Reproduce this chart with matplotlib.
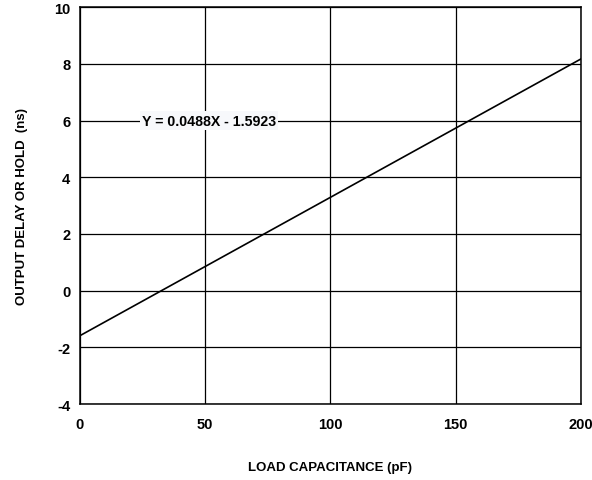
import matplotlib
matplotlib.use('Agg')
import matplotlib.pyplot as plt

# 数据：负载电容 vs 输出延迟（直线两端点）
load_pf = [0, 200]
delay_ns = [-1.59, 8.17]
x_ticks = [0, 50, 100, 150, 200]
y_ticks = [-4, -2, 0, 2, 4, 6, 8, 10]
fit_label = "Y = 0.0488X - 1.5923"

plt.rcParams['font.family'] = ['Liberation Sans', 'DejaVu Sans']
plt.rcParams['axes.unicode_minus'] = False

fig = plt.figure(figsize=(5.92, 4.81), dpi=100)
ax = fig.add_axes([0.135, 0.158, 0.846, 0.825])

ax.plot(load_pf, delay_ns, color='black', lw=1.2, zorder=3)

ax.set_xlim(0, 200)
ax.set_ylim(-4, 10)
ax.set_xticks(x_ticks)
ax.set_yticks(y_ticks)
ax.grid(True, color='black', lw=0.9)
ax.set_axisbelow(True)
for s in ax.spines.values():
    s.set_linewidth(1.1)
ax.tick_params(axis='x', length=0, labelsize=10.5, pad=9)
ax.tick_params(axis='y', length=0, labelsize=10.5, pad=7)
for lab in ax.get_xticklabels() + ax.get_yticklabels():
    lab.set_fontweight('bold')

ax.text(24.8, 6.0, fit_label, fontsize=10.2, fontweight='bold', va='center', ha='left',
        bbox=dict(facecolor='#f7f8fb', edgecolor='none', pad=1.5), zorder=4)

ax.set_xlabel('LOAD CAPACITANCE (pF)', fontsize=9.5, fontweight='bold', labelpad=22)
ax.set_ylabel('OUTPUT DELAY OR HOLD  (ns)', fontsize=9.5, fontweight='bold', labelpad=19)

fig.savefig('out.png', dpi=100)
